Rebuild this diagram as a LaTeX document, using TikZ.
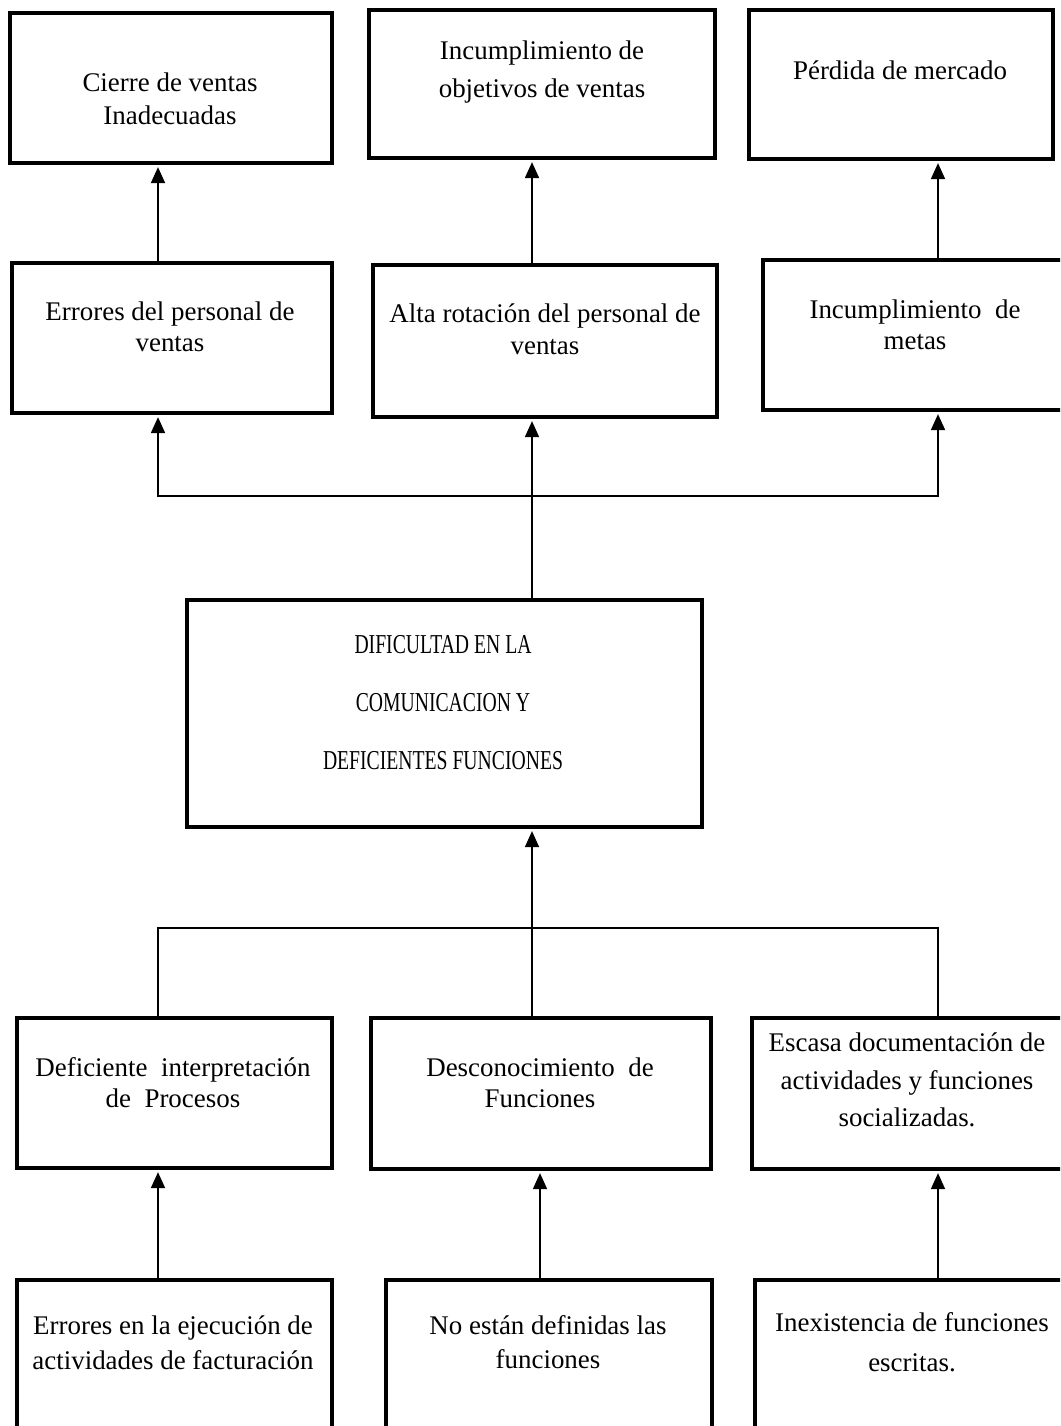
\documentclass[tikz,border=0pt]{standalone}
\usepackage{fontspec}
\setmainfont{Liberation Serif}
\newfontfamily\narrowserif[FakeStretch=0.72]{Liberation Serif}
\usetikzlibrary{arrows.meta}
\begin{document}
\begin{tikzpicture}[x=0.75pt,y=-0.75pt,
  box/.style 2 args={draw, line width=3.4pt, inner sep=0pt, minimum width=#1*0.75pt, minimum height=#2*0.75pt},
  txt/.style={align=center, inner sep=0pt, font=\fontsize{20.2pt}{#1}\selectfont},
  txt/.default=24pt,
  conn/.style={line width=1.4pt},
  arr/.style={conn, -{Triangle[length=12pt,width=10.5pt]}, shorten >=1.4pt}]
\clip (0,0) rectangle (1060,1426);
\fill[white] (0,0) rectangle (1060,1426);
% boxes
\node[box={322}{150}] (A) at (171,88) {};
\node[box={346}{148}] (B) at (542,84) {};
\node[box={304}{149}] (C) at (901,84.5) {};
\node[box={320}{150}] (D) at (172,338) {};
\node[box={344}{152}] (E) at (545,341) {};
\node[box={312}{150}] (F) at (919,335) {};
\node[box={515}{227}] (G) at (444.5,713.5) {};
\node[box={315}{150}] (H) at (174.5,1093) {};
\node[box={340}{151}] (I) at (541,1093.5) {};
\node[box={323}{151}] (J) at (913.5,1093.5) {};
\node[box={315}{180}] (K) at (174.5,1370) {};
\node[box={326}{180}] (L) at (549,1370) {};
\node[box={320}{180}] (M) at (915,1370) {};
% texts
\node[txt=25pt] (tA) at (170,98.5) {Cierre de ventas\\Inadecuadas};
\node[txt=28pt] (tB) at (542,72) {Incumplimiento de\\objetivos de ventas};
\node[txt] (tC) at (900,70) {Pérdida de mercado};
\node[txt=23pt] (tD) at (170,327) {Errores del personal de\\ventas};
\node[txt] (tE) at (545,329) {Alta rotación del personal de\\ventas};
\node[txt=23pt] (tF) at (915,325) {Incumplimiento\ \ de\\metas};
\node[align=center, inner sep=0pt, font=\narrowserif\fontsize{20.5pt}{43.5pt}\selectfont] (tG) at (443,703) {DIFICULTAD EN LA\\COMUNICACION Y\\DEFICIENTES FUNCIONES};
\node[txt=23.5pt] (tH) at (173,1082.5) {Deficiente\ \ interpretación\\de\ \ Procesos};
\node[txt=23pt] (tI) at (540,1083) {Desconocimiento\ \ de\\Funciones};
\node[txt=28pt] (tJ) at (907,1080) {Escasa documentación de\\actividades y funciones\\socializadas.};
\node[txt=26pt] (tK) at (173,1342.5) {Errores en la ejecución de\\actividades de facturación};
\node[txt=26pt] (tL) at (548,1342) {No están definidas las\\funciones};
\node[txt=30pt] (tM) at (912,1342) {Inexistencia de funciones\\escritas.};
% columns and junctions
\coordinate (c1) at (158,0);
\coordinate (c2) at (532,0);
\coordinate (c3) at (938,0);
\coordinate (c4) at (540,0);
\coordinate (j1) at (532,496);
\coordinate (j2) at (532,928);
% connectors top
\draw[arr] (D.north -| c1) -- (A.south -| c1);
\draw[arr] (E.north -| c2) -- (B.south -| c2);
\draw[arr] (F.north -| c3) -- (C.south -| c3);
\draw[arr] (G.north -| c2) -- (E.south -| c2);
\draw[arr] (j1) -| (D.south -| c1);
\draw[arr] (j1) -| (F.south -| c3);
% connectors bottom
\draw[arr] (j2) -- (G.south -| c2);
\draw[conn] (H.north -| c1) |- (j2);
\draw[conn] (J.north -| c3) |- (j2);
\draw[conn] (I.north -| c2) -- (j2);
\draw[arr] (K.north -| c1) -- (H.south -| c1);
\draw[arr] (L.north -| c4) -- (I.south -| c4);
\draw[arr] (M.north -| c3) -- (J.south -| c3);
\end{tikzpicture}
\end{document}
